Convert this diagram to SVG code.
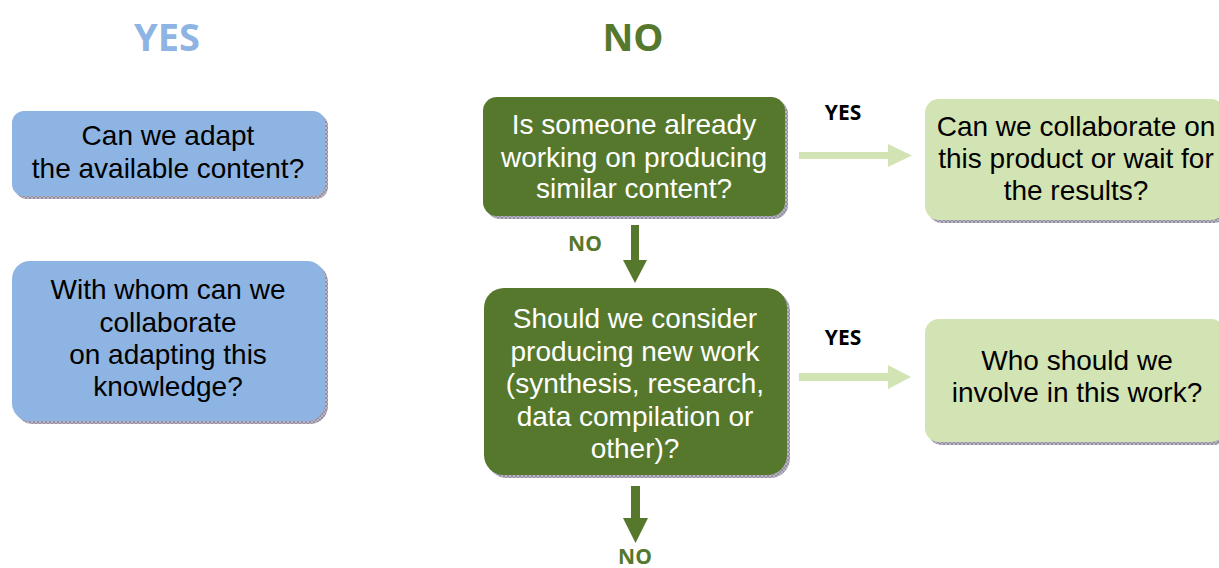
<svg xmlns="http://www.w3.org/2000/svg" width="1219" height="568" viewBox="0 0 1219 568">
<defs>
<pattern id="hatch" width="4" height="4" patternUnits="userSpaceOnUse">
<rect width="4" height="4" fill="#B8B4C4"/>
<path d="M0 0L4 4M4 0L0 4" stroke="#8A8598" stroke-width="0.8"/>
</pattern>
<style>
.shadow{fill:url(#hatch);}
.blue{fill:#8EB4E3;}
.dark{fill:#56782C;}
.light{fill:#D3E4B4;}
.t{font-family:"Liberation Sans",Arial,sans-serif;font-size:28px;text-anchor:middle;}
.tb{fill:#000;}
.tw{fill:#fff;}
.hdr{font-family:"Open Sans","Liberation Sans",sans-serif;font-weight:bold;font-size:38px;text-anchor:middle;}
.lbl{font-family:"Open Sans","Liberation Sans",sans-serif;font-weight:bold;font-size:21px;text-anchor:middle;}
</style>
</defs>
<rect width="1219" height="568" fill="#fff"/>
<text class="hdr" x="167" y="51" fill="#8EB4E3">YES</text>
<text class="hdr" x="633" y="51" fill="#56782C">NO</text>

<g id="connectors">
<path d="M799 152H888V144L912 155.5L888 167V159H799Z" fill="#D3E4B4"/>
<path d="M799 373H888V365L911 377L888 389V381H799Z" fill="#D3E4B4"/>
<path d="M631 225H639V260H647L635 283L623 260H631Z" fill="#56782C"/>
<path d="M631 486H640V518H648L635.5 543L623 518H631Z" fill="#56782C"/>
<text class="lbl" x="843" y="120" fill="#000">YES</text>
<text class="lbl" x="843" y="345" fill="#000">YES</text>
<text class="lbl" x="585" y="251" fill="#56782C">NO</text>
<text class="lbl" x="635" y="564" fill="#56782C">NO</text>
</g>

<g id="node-adapt">
<rect class="shadow" x="15" y="114" width="313" height="85" rx="12"/>
<rect class="blue" x="12" y="111" width="313" height="85" rx="12"/>
<text class="t tb" x="168" y="145">Can we adapt</text>
<text class="t tb" x="168" y="178">the available content?</text>
</g>

<g id="node-whom">
<rect class="shadow" x="15" y="264" width="313" height="160" rx="18"/>
<rect class="blue" x="12" y="261" width="313" height="160" rx="18"/>
<text class="t tb" x="168" y="299">With whom can we</text>
<text class="t tb" x="168" y="332">collaborate</text>
<text class="t tb" x="168" y="364">on adapting this</text>
<text class="t tb" x="168" y="396">knowledge?</text>
</g>

<g id="node-someone">
<rect class="shadow" x="486" y="100" width="302" height="119" rx="14"/>
<rect class="dark" x="483" y="97" width="302" height="119" rx="14"/>
<text class="t tw" x="634" y="134">Is someone already</text>
<text class="t tw" x="634" y="167">working on producing</text>
<text class="t tw" x="634" y="198">similar content?</text>
</g>

<g id="node-consider">
<rect class="shadow" x="487" y="291" width="303" height="187" rx="20"/>
<rect class="dark" x="484" y="288" width="303" height="187" rx="20"/>
<text class="t tw" x="635" y="328">Should we consider</text>
<text class="t tw" x="635" y="361">producing new work</text>
<text class="t tw" x="635" y="393">(synthesis, research,</text>
<text class="t tw" x="635" y="426">data compilation or</text>
<text class="t tw" x="635" y="458">other)?</text>
</g>

<g id="node-collab">
<rect class="shadow" x="928" y="102" width="300" height="121" rx="14"/>
<rect class="light" x="925" y="99" width="300" height="121" rx="14"/>
<text class="t tb" x="1076" y="136">Can we collaborate on</text>
<text class="t tb" x="1076" y="168">this product or wait for</text>
<text class="t tb" x="1076" y="200">the results?</text>
</g>

<g id="node-involve">
<rect class="shadow" x="928" y="322" width="300" height="123" rx="14"/>
<rect class="light" x="925" y="319" width="300" height="123" rx="14"/>
<text class="t tb" x="1077" y="370">Who should we</text>
<text class="t tb" x="1077" y="402">involve in this work?</text>
</g>
</svg>
